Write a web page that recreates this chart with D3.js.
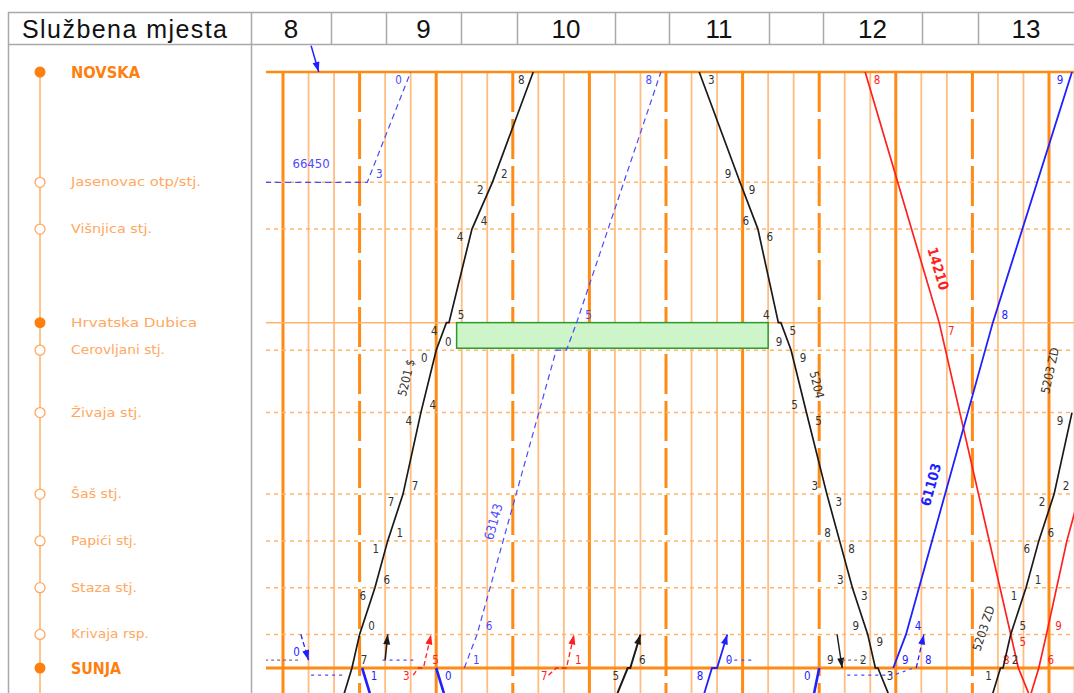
<!DOCTYPE html>
<html>
<head>
<meta charset="utf-8">
<script src="https://cdn.jsdelivr.net/npm/d3@7/dist/d3.min.js"></script>
<style>
  body { margin: 0; background: #fff; }
  svg { display: block; }
</style>
</head>
<body>
<div id="chart"></div>
<script>
// Setting up sizes
const width = 1074;
const height = 693;

// Stations, top to bottom, km from Novska
const stations = ["NOVSKA", "Jasenovac otp/stj.", "Višnjica stj.", "Hrvatska Dubica", "Cerovljani stj.",
  "Živaja stj.", "Šaš stj.", "Papići stj.", "Staza stj.", "Krivaja rsp.", "SUNJA"];
const stationKm = [0, 9.2, 13.1, 20.9, 23.2, 28.4, 35.2, 39.1, 43.0, 46.9, 49.7];
const stationKind = ["major", "minor", "minor", "stop", "minor", "minor", "minor", "minor", "minor", "minor", "major"];
// track points off the line: sheet edges and Sunja yard tracks
const extraKm = { gore: -2.2, S1: 49.05, S2: 50.3, dolje: 51.8 };

const hourLabels = ["8", "9", "10", "11", "12", "13"];

// closure between Hrvatska Dubica and Cerovljani
const closure = ["Hrvatska Dubica", "Cerovljani stj.", "9:08", "11:10"];

// trains: [station, time] or [station, arrival, departure]; "~" = time without a digit
const t5201 = [["dolje", "~8:24"], ["SUNJA", "8:27"], ["Krivaja rsp.", "8:30"], ["Staza stj.", "8:36", "8:36"],
  ["Papići stj.", "8:41", "8:41"], ["Šaš stj.", "8:47", "8:47"], ["Živaja stj.", "8:54", "8:54"],
  ["Cerovljani stj.", "9:00", "9:00"], ["Hrvatska Dubica", "9:04", "9:05"], ["Višnjica stj.", "9:14", "9:14"],
  ["Jasenovac otp/stj.", "9:22", "9:22"], ["NOVSKA", "9:38"]];
const t5204 = [["NOVSKA", "10:43"], ["Jasenovac otp/stj.", "10:59", "10:59"], ["Višnjica stj.", "11:06", "11:06"],
  ["Hrvatska Dubica", "11:14", "11:15"], ["Cerovljani stj.", "11:19", "11:19"], ["Živaja stj.", "11:25", "11:25"],
  ["Šaš stj.", "11:33", "11:33"], ["Papići stj.", "11:38", "11:38"], ["Staza stj.", "11:43", "11:43"],
  ["Krivaja rsp.", "11:49", "11:49"], ["SUNJA", "11:52", "11:53"], ["dolje", "~11:57"]];
const t63143 = [["SUNJA", "9:11"], ["Krivaja rsp.", "9:16"], ["Cerovljani stj.", "~9:47", "~9:51"],
  ["Hrvatska Dubica", "9:55"], ["NOVSKA", "10:28"]];
const t66450 = [["Jasenovac otp/stj.", "~7:53", "8:33"], ["NOVSKA", "8:50"]];
const t14210 = [["NOVSKA", "11:48"], ["Hrvatska Dubica", "12:17"], ["Krivaja rsp.", "12:45"],
  ["SUNJA", "12:48", "~12:48"], ["dolje", "~12:52"]];
const t61103 = [["SUNJA", "11:59"], ["Krivaja rsp.", "12:04"], ["Hrvatska Dubica", "12:38"], ["NOVSKA", "13:09"]];
const t5203 = [["dolje", "~12:38"], ["SUNJA", "12:41", "12:42"], ["Krivaja rsp.", "12:45"],
  ["Staza stj.", "12:51", "12:51"], ["Papići stj.", "12:56", "12:56"], ["Šaš stj.", "13:02", "13:02"],
  ["Živaja stj.", "13:09", "~13:09"]];
const tRed = [["dolje", "~12:53"], ["SUNJA", "~12:56", "12:56"], ["Krivaja rsp.", "12:59"],
  ["Staza stj.", "~13:03"], ["Papići stj.", "~13:07"], ["Šaš stj.", "~13:12"]];

// short runs to and from the other lines at Novska and Sunja
const sNovska = [["gore", "~8:11"], ["NOVSKA", "~8:14"]];
const sA = [["S1", "~7:53"], ["S1", "~8:06"]];
const sB = [["Krivaja rsp.", "~8:07"], ["S1", "8:10"]];
const sB2 = [["S2", "~8:11"], ["S2", "~8:24"]];
const sC = [["SUNJA", "8:31"], ["dolje", "~8:34"]];
const sD = [["S1", "~8:40"], ["Krivaja rsp.", "~8:41"]];
const sE = [["S2", "~8:51"], ["SUNJA", "8:53", "8:55"], ["Krivaja rsp.", "~8:58"]];
const sF = [["S1", "~8:39"], ["S1", "~8:51"]];
const sG = [["SUNJA", "9:00"], ["dolje", "~9:03"]];
const sH = [["S2", "~9:44"], ["SUNJA", "9:47", "9:51"], ["Krivaja rsp.", "~9:54"]];
const sI = [["dolje", "~10:11"], ["SUNJA", "10:15", "10:16"], ["Krivaja rsp.", "~10:20"]];
const sJ = [["dolje", "~10:45"], ["SUNJA", "10:48", "10:50"], ["Krivaja rsp.", "~10:54"]];
const sJ2 = [["S1", "~10:54"], ["S1", "~11:05"]];
const sK = [["dolje", "~11:28"], ["SUNJA", "11:30"]];
const sL = [["Krivaja rsp.", "~11:37"], ["SUNJA", "11:39"]];
const sL2 = [["S1", "~11:39"], ["S1", "~11:47"]];
const sL3 = [["S2", "~11:41"], ["S2", "~11:59"], ["SUNJA", "~12:07"]];
const sM = [["SUNJA", "12:08"], ["Krivaja rsp.", "~12:11"]];

// Styles
const BLACK = "#1a1a1a", BLUE = "#1f1fff", DBLUE = "#4a4aff", RED = "#ff1f1f", GRAY = "#777";
const trains = [
  { d: t5201, c: BLACK, w: 1.7, lab: [{ txt: "5201 $", km: 25.5, dx: -23 }] },
  { d: t5204, c: BLACK, w: 1.7, lab: [{ txt: "5204", km: 26.1, dx: 17 }] },
  { d: t63143, c: DBLUE, w: 1.2, dash: "6,4", lab: [{ txt: "63143", km: 37.5, dx: -15, fs: 13 }] },
  { d: t66450, c: DBLUE, w: 1.2, dash: "6,4", lab: [{ txt: "66450", t: "8:11", km: 7.6, rot: 0, fs: 13 }] },
  { d: t14210, c: RED, w: 1.7, lab: [{ txt: "14210", km: 16.4, dx: 15, fs: 14, bold: true }] },
  { d: t61103, c: BLUE, w: 1.8, lab: [{ txt: "61103", km: 34.4, dx: -17, fs: 14, bold: true }] },
  { d: t5203, c: BLACK, w: 1.7, lab: [{ txt: "5203 ZD", km: 46.4, dx: -29 }, { txt: "5203 ZD", km: 24.9, dx: -31 }] },
  { d: tRed, c: RED, w: 1.7 },
  { d: sNovska, c: BLUE, w: 1.5, arrow: true },
  { d: sA, c: GRAY, w: 1.2, dash: "3,3" },
  { d: sB, c: BLUE, w: 1.3, dash: "5,3", arrow: true },
  { d: sB2, c: DBLUE, w: 1.2, dash: "3,4" },
  { d: sC, c: BLUE, w: 2.6 },
  { d: sD, c: BLACK, w: 1.6, arrow: true },
  { d: sE, c: RED, w: 1.3, dash: "5,3", arrow: true },
  { d: sF, c: DBLUE, w: 1.2, dash: "3,4" },
  { d: sG, c: BLUE, w: 2.6 },
  { d: sH, c: RED, w: 1.3, dash: "5,3", arrow: true },
  { d: sI, c: BLACK, w: 2, arrow: true },
  { d: sJ, c: BLUE, w: 1.8, arrow: true },
  { d: sJ2, c: DBLUE, w: 1.2, dash: "3,4" },
  { d: sK, c: BLUE, w: 2.6 },
  { d: sL, c: BLACK, w: 1.4, arrow: true },
  { d: sL2, c: GRAY, w: 1.2, dash: "3,3" },
  { d: sL3, c: DBLUE, w: 1.2, dash: "3,4" },
  { d: sM, c: BLUE, w: 1.3, dash: "5,3", arrow: true }
];

// Scales
const x = d3.scaleLinear().domain([8, 13]).range([283, 1049]);
const y = d3.scaleLinear().domain([0, 49.7]).range([72, 668]);

const kmOf = name => {
  const i = stations.indexOf(name);
  return i >= 0 ? stationKm[i] : extraKm[name];
};
const tOf = s => {
  const [h, m] = s.replace("~", "").split(":").map(Number);
  return h + m / 60;
};

const svg = d3.select("#chart")
  .append("svg")
  .attr("width", width)
  .attr("height", height);

svg.append("rect").attr("width", width).attr("height", height).attr("fill", "#fff");

svg.append("clipPath").attr("id", "plotClip")
  .append("rect").attr("x", 266).attr("y", 40).attr("width", width - 266).attr("height", height - 40);

const plot = svg.append("g").attr("clip-path", "url(#plotClip)");

// Time grid, every 10 minutes
const ticks = d3.range(0, 311, 10).map(m => 8 + m / 60);
const tickKind = d => {
  const m = Math.round(d * 60) % 60;
  return m === 0 ? "hour" : m === 30 ? "half" : "ten";
};
plot.selectAll(".vgrid")
  .data(ticks)
  .join("line")
  .attr("class", "vgrid")
  .attr("x1", d => x(d)).attr("x2", d => x(d))
  .attr("y1", y(0)).attr("y2", height)
  .attr("stroke", d => tickKind(d) === "ten" ? "#ffbd82" : "#ff8a14")
  .attr("stroke-width", d => tickKind(d) === "ten" ? 1.8 : 3)
  .attr("stroke-dasharray", d => tickKind(d) === "half" ? "40,7" : null);

// Station lines
plot.selectAll(".hline")
  .data(stations)
  .join("line")
  .attr("class", "hline")
  .attr("x1", 266).attr("x2", width)
  .attr("y1", (d, i) => y(stationKm[i])).attr("y2", (d, i) => y(stationKm[i]))
  .attr("stroke", (d, i) => stationKind[i] === "major" ? "#ff8a14" : "#ffb46a")
  .attr("stroke-width", (d, i) => stationKind[i] === "major" ? (i === 0 ? 2.5 : 3) : 1.5)
  .attr("stroke-dasharray", (d, i) => stationKind[i] === "minor" ? "4,4" : null);

// Closure box
plot.append("rect")
  .attr("x", x(tOf(closure[2])))
  .attr("y", y(kmOf(closure[0])))
  .attr("width", x(tOf(closure[3])) - x(tOf(closure[2])))
  .attr("height", y(kmOf(closure[1])) - y(kmOf(closure[0])) - 2)
  .attr("fill", "#cdf5c9")
  .attr("stroke", "#2b9a2b")
  .attr("stroke-width", 1.5);

// Trains
const toPixels = pts => {
  const out = [];
  pts.forEach(p => {
    const yy = y(kmOf(p[0]));
    p.slice(1).forEach(t => out.push([x(tOf(t)), yy]));
  });
  return out;
};

const line = d3.line();

function xAtY(P, yy) {
  let seg = null;
  for (let i = 0; i < P.length - 1; i++) {
    const a = P[i], b = P[i + 1];
    if (a[1] !== b[1] && (yy - a[1]) * (yy - b[1]) <= 0) { seg = [a, b]; break; }
  }
  if (!seg) {
    // extrapolate from nearest sloped end segment
    const segs = [];
    for (let i = 0; i < P.length - 1; i++) if (P[i][1] !== P[i + 1][1]) segs.push([P[i], P[i + 1]]);
    seg = d3.least(segs, s => Math.min(Math.abs(s[0][1] - yy), Math.abs(s[1][1] - yy)));
  }
  const [a, b] = seg;
  const xx = a[0] + (yy - a[1]) * (b[0] - a[0]) / (b[1] - a[1]);
  const ang = Math.atan2(b[1] - a[1], b[0] - a[0]) * 180 / Math.PI;
  return [xx, ang];
}

const digitFont = "'DejaVu Sans Condensed', 'DejaVu Sans', sans-serif";

trains.forEach(tr => {
  const P = toPixels(tr.d);
  const g = plot.append("g");

  g.append("path")
    .attr("d", line(P))
    .attr("fill", "none")
    .attr("stroke", tr.c)
    .attr("stroke-width", tr.w)
    .attr("stroke-dasharray", tr.dash || null);

  if (tr.arrow) {
    const b = P[P.length - 1];
    let a = P[P.length - 2];
    const ang = Math.atan2(b[1] - a[1], b[0] - a[0]);
    const L = 10, H = 3.5;
    const bx = b[0] - L * Math.cos(ang), by = b[1] - L * Math.sin(ang);
    g.append("path")
      .attr("d", `M${b[0]},${b[1]}L${bx - H * Math.sin(ang)},${by + H * Math.cos(ang)}L${bx + H * Math.sin(ang)},${by - H * Math.cos(ang)}Z`)
      .attr("fill", tr.c);
  }

  // minute digits
  const up = kmOf(tr.d[tr.d.length - 1][0]) < kmOf(tr.d[0][0]);
  const last = tr.d.length - 1;
  const digits = [];
  tr.d.forEach((p, i) => {
    const yy = y(kmOf(p[0]));
    const times = p.slice(1);
    const addLeft = t => { if (!t.startsWith("~")) digits.push([x(tOf(t)) - 12, yy + (up ? 8 : -8), t.slice(-1)]); };
    const addRight = t => { if (!t.startsWith("~")) digits.push([x(tOf(t)) + 12, yy + (up ? -8 : 8), t.slice(-1)]); };
    if (times.length === 2) { addLeft(times[0]); addRight(times[1]); }
    else if (i === last && i > 0) addLeft(times[0]);
    else addRight(times[0]);
  });
  g.selectAll(".dg")
    .data(digits)
    .join("text")
    .attr("x", d => d[0]).attr("y", d => d[1])
    .attr("text-anchor", "middle")
    .attr("dominant-baseline", "central")
    .attr("font-family", digitFont)
    .attr("font-size", 11.5)
    .attr("fill", tr.c === BLACK ? "#333" : tr.c)
    .text(d => d[2]);

  // train numbers
  (tr.lab || []).forEach(l => {
    const yy = y(l.km);
    let xx, ang;
    if (l.t) { xx = x(tOf(l.t)); ang = l.rot; }
    else { const r = xAtY(P, yy); xx = r[0] + l.dx; ang = r[1]; }
    g.append("text")
      .attr("transform", `translate(${xx},${yy}) rotate(${ang})`)
      .attr("text-anchor", "middle")
      .attr("dominant-baseline", "central")
      .attr("font-family", digitFont)
      .attr("font-size", l.fs || 12)
      .attr("font-weight", l.bold ? "bold" : null)
      .attr("fill", tr.c === BLACK ? "#333" : tr.c)
      .text(l.txt);
  });
});

// Left panel with station names
const left = svg.append("g");
left.append("line")
  .attr("x1", 40).attr("x2", 40)
  .attr("y1", y(0)).attr("y2", height)
  .attr("stroke", "#ffc48a").attr("stroke-width", 2);

const nameW = [69, 130, 81, 126, 94, 71, 51, 66, 66, 78, 50];
left.selectAll(".st")
  .data(stations)
  .join("circle")
  .attr("class", "st")
  .attr("cx", 40)
  .attr("cy", (d, i) => y(stationKm[i]))
  .attr("r", (d, i) => stationKind[i] === "minor" ? 5 : 5.5)
  .attr("fill", (d, i) => stationKind[i] === "minor" ? "#fff" : "#ff7f0e")
  .attr("stroke", (d, i) => stationKind[i] === "minor" ? "#ffa860" : "none")
  .attr("stroke-width", 1.3);

left.selectAll(".stname")
  .data(stations)
  .join("text")
  .attr("class", "stname")
  .attr("x", 71)
  .attr("y", (d, i) => y(stationKm[i]))
  .attr("dominant-baseline", "central")
  .attr("font-family", digitFont)
  .attr("font-size", (d, i) => stationKind[i] === "major" ? 16 : 12)
  .attr("font-weight", (d, i) => stationKind[i] === "major" ? "bold" : null)
  .attr("fill", (d, i) => stationKind[i] === "major" ? "#ff7f0e" : "#ffa860")
  .attr("textLength", (d, i) => nameW[i])
  .attr("lengthAdjust", "spacingAndGlyphs")
  .text(d => d);

// Header table
const hdrEdges = [251, 331, 386, 461, 517, 615, 669, 769, 823, 922, 978, 1080];
const frame = svg.append("g").attr("stroke", "#a9a9a9").attr("stroke-width", 1.5);
frame.append("line").attr("x1", 8).attr("x2", width).attr("y1", 12.5).attr("y2", 12.5);
frame.append("line").attr("x1", 8).attr("x2", width).attr("y1", 44.5).attr("y2", 44.5);
frame.append("line").attr("x1", 8.5).attr("x2", 8.5).attr("y1", 12).attr("y2", height);
frame.append("line").attr("x1", 251.5).attr("x2", 251.5).attr("y1", 12).attr("y2", height);
frame.selectAll(".hc")
  .data(hdrEdges.slice(1, -1))
  .join("line")
  .attr("x1", d => d + 0.5).attr("x2", d => d + 0.5)
  .attr("y1", 12).attr("y2", 44.5);

svg.append("text")
  .attr("x", 22).attr("y", 29)
  .attr("dominant-baseline", "central")
  .attr("font-family", "'Liberation Sans', Arial, sans-serif")
  .attr("font-size", 25)
  .attr("fill", "#111")
  .attr("textLength", 205)
  .attr("lengthAdjust", "spacing")
  .text("Službena mjesta");

svg.selectAll(".hour")
  .data(hourLabels)
  .join("text")
  .attr("class", "hour")
  .attr("x", (d, i) => (hdrEdges[i * 2] + Math.min(hdrEdges[i * 2 + 1], 1074)) / 2)
  .attr("y", 29)
  .attr("text-anchor", "middle")
  .attr("dominant-baseline", "central")
  .attr("font-family", "'Liberation Sans', Arial, sans-serif")
  .attr("font-size", 26)
  .attr("fill", "#111")
  .text(d => d);
</script>
</body>
</html>
